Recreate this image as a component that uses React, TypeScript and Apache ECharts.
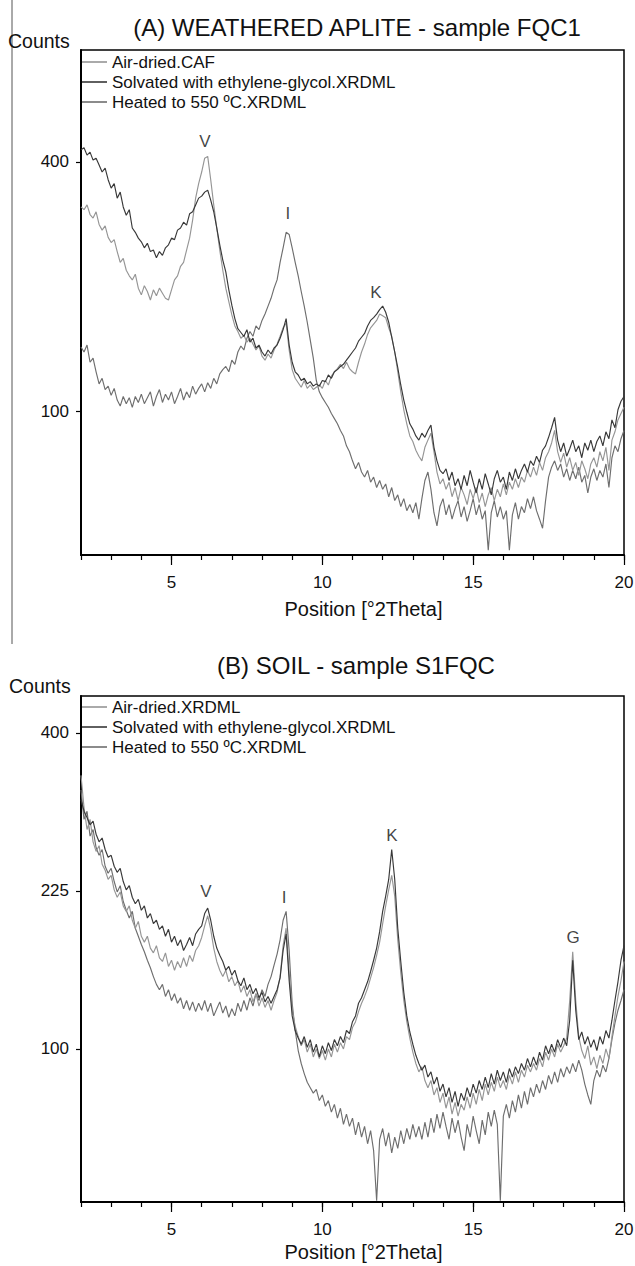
import React, { useEffect, useRef } from "react";
import * as echarts from "echarts";

// ---- scan grid (°2Theta) ----
const SCAN_START = 2.0;
const SCAN_STEP = 0.1;
const SCAN_POINTS = 181;
const twoTheta: number[] = Array.from({ length: SCAN_POINTS }, (_, i) =>
  Math.round((SCAN_START + i * SCAN_STEP) * 10) / 10
);

const xTickLabels = [5, 10, 15, 20];
const yTickLabelsA = [100, 400];
const yTickLabelsB = [100, 225, 400];
const countsRangeA = [17.8, 600];
const countsRangeB = [26.6, 448];

const titleA = "(A) WEATHERED APLITE - sample FQC1";
const titleB = "(B) SOIL - sample S1FQC";
const yName = "Counts";
const xName = "Position [°2Theta]";

const namesA = ["Air-dried.CAF", "Solvated with ethylene-glycol.XRDML", "Heated to 550 ºC.XRDML"];
const namesB = ["Air-dried.XRDML", "Solvated with ethylene-glycol.XRDML", "Heated to 550 ºC.XRDML"];

// ---- (A) counts ----
const airDriedA = [
  331, 327, 334, 320, 315, 324, 306, 298, 304, 288,
  281, 285, 269, 255, 260, 245, 238, 233, 240, 223,
  215, 226, 219, 209, 221, 214, 223, 217, 211, 209,
  221, 233, 238, 250, 255, 271, 287, 312, 344, 366,
  384, 406, 409, 372, 334, 301, 271, 245, 223, 207,
  192, 180, 174, 167, 170, 163, 167, 161, 155, 159,
  149, 145, 151, 147, 155, 161, 169, 178, 183, 155,
  136, 128, 124, 120, 126, 119, 122, 118, 120, 122,
  119, 126, 122, 130, 134, 137, 141, 137, 143, 137,
  134, 132, 143, 153, 161, 171, 178, 182, 186, 193,
  191, 189, 178, 169, 153, 134, 116, 101, 90, 81,
  77, 71, 67, 64, 73, 78, 83, 70, 57, 50,
  53, 47, 51, 43, 48, 41, 48, 44, 39, 47,
  42, 48, 40, 45, 38, 44, 48, 41, 47, 43,
  50, 44, 51, 47, 53, 48, 54, 51, 58, 54,
  60, 55, 63, 58, 66, 70, 76, 85, 70, 63,
  69, 60, 66, 58, 63, 55, 64, 59, 53, 62,
  66, 60, 70, 64, 73, 58, 78, 84, 93, 98,
  103,
];
const solvatedA = [
  420, 423, 411, 416, 403, 406, 395, 384, 390, 372,
  359, 366, 344, 353, 331, 319, 327, 301, 295, 287,
  282, 274, 280, 269, 271, 261, 269, 264, 274, 278,
  287, 285, 298, 301, 309, 305, 321, 324, 334, 344,
  347, 353, 356, 341, 324, 301, 278, 258, 243, 221,
  203, 188, 177, 173, 169, 176, 163, 167, 157, 160,
  153, 149, 155, 151, 157, 160, 167, 176, 188, 160,
  143, 134, 131, 126, 128, 123, 125, 121, 123, 121,
  126, 125, 131, 128, 134, 136, 139, 141, 145, 149,
  153, 157, 164, 168, 172, 180, 186, 189, 193, 198,
  202, 195, 184, 168, 153, 138, 122, 109, 99, 90,
  86, 81, 78, 83, 80, 85, 89, 73, 64, 58,
  56, 59, 52, 57, 49, 53, 47, 55, 49, 58,
  51, 45, 53, 47, 56, 50, 44, 53, 58, 51,
  54, 47, 57, 52, 59, 53, 58, 62, 57, 64,
  61, 67, 63, 71, 74, 80, 87, 95, 78, 70,
  76, 67, 72, 78, 70, 74, 66, 76, 71, 78,
  70, 77, 81, 74, 84, 79, 93, 87, 101, 108,
  112,
];
const heatedA = [
  158, 153, 160, 143, 147, 134, 123, 128, 118, 121,
  113, 119, 109, 104, 112, 106, 111, 103, 112, 107,
  114, 106, 111, 116, 104, 112, 118, 107, 114, 109,
  116, 106, 112, 119, 109, 116, 111, 121, 114, 119,
  123, 116, 124, 119, 128, 123, 132, 136, 139, 134,
  145, 141, 153, 159, 155, 167, 174, 169, 180, 176,
  186, 193, 202, 211, 223, 233, 255, 274, 295, 292,
  274, 255, 238, 219, 202, 184, 165, 147, 126, 116,
  111, 107, 103, 98, 94, 90, 85, 81, 74, 70,
  64, 59, 63, 57, 54, 58, 51, 54, 48, 52,
  47, 50, 43, 48, 41, 44, 38, 42, 36, 39,
  35, 40, 32, 42, 52, 57, 47, 35, 29, 38,
  42, 34, 39, 32, 37, 41, 33, 38, 31, 36,
  42, 34, 39, 32, 36, 19.5, 35, 41, 33, 38,
  32, 36, 19.5, 34, 40, 32, 38, 35, 42, 37,
  43, 36, 32, 28, 41, 54, 60, 64, 58, 62,
  54, 59, 52, 58, 53, 60, 51, 55, 45, 54,
  59, 52, 58, 54, 62, 48, 66, 74, 70, 79,
  85,
];

// ---- (B) counts ----
const airDriedB = [
  348, 311, 287, 298, 274, 264, 270, 251, 245, 236,
  240, 226, 219, 224, 211, 206, 211, 198, 191, 197,
  184, 179, 184, 174, 170, 176, 166, 163, 170, 159,
  164, 156, 163, 158, 166, 159, 168, 163, 172, 176,
  183, 193, 202, 190, 174, 163, 156, 151, 156, 147,
  151, 144, 148, 139, 144, 136, 141, 132, 138, 129,
  135, 128, 133, 126, 133, 139, 151, 176, 191, 154,
  126, 115, 108, 102, 106, 98, 103, 95, 100, 94,
  99, 93, 100, 95, 103, 98, 104, 100, 108, 106,
  114, 118, 125, 131, 136, 142, 150, 158, 168, 179,
  195, 211, 226, 240, 220, 181, 154, 133, 118, 107,
  98, 91, 86, 89, 81, 77, 81, 73, 77, 69,
  74, 66, 72, 63, 69, 62, 68, 65, 72, 66,
  74, 68, 76, 70, 79, 73, 80, 75, 83, 77,
  81, 76, 84, 79, 86, 80, 87, 83, 90, 86,
  91, 87, 94, 89, 98, 93, 100, 95, 103, 98,
  102, 107, 133, 171, 133, 108, 99, 94, 102, 90,
  95, 88, 96, 91, 100, 94, 108, 122, 136, 148,
  163,
];
const solvatedB = [
  320, 307, 300, 292, 296, 282, 274, 278, 266, 258,
  260, 249, 243, 247, 234, 226, 230, 219, 213, 217,
  207, 211, 200, 204, 195, 198, 190, 193, 184, 190,
  179, 184, 176, 181, 172, 177, 183, 176, 186, 190,
  193, 204, 209, 198, 184, 174, 168, 163, 156, 159,
  152, 156, 148, 144, 150, 141, 145, 138, 142, 135,
  139, 132, 136, 131, 136, 141, 150, 172, 186, 148,
  122, 112, 107, 103, 108, 101, 106, 98, 103, 95,
  102, 97, 104, 99, 106, 102, 108, 104, 112, 110,
  118, 122, 131, 135, 141, 147, 155, 164, 174, 188,
  206, 220, 236, 266, 236, 191, 163, 139, 122, 111,
  103, 96, 91, 87, 90, 83, 86, 79, 83, 75,
  79, 72, 77, 69, 75, 67, 74, 70, 77, 72,
  79, 74, 81, 76, 83, 77, 85, 79, 87, 81,
  86, 80, 88, 83, 89, 85, 91, 87, 94, 89,
  95, 90, 98, 93, 102, 97, 103, 98, 106, 101,
  107, 102, 119, 164, 126, 106, 111, 103, 108, 101,
  106, 99, 108, 103, 112, 107, 119, 133, 147, 164,
  176,
];
const heatedB = [
  331, 298, 307, 280, 287, 268, 260, 266, 249, 242,
  247, 234, 224, 230, 215, 207, 200, 206, 191, 184,
  177, 171, 164, 158, 151, 145, 141, 145, 136, 141,
  133, 138, 131, 135, 127, 133, 126, 132, 125, 131,
  126, 133, 125, 131, 122, 127, 132, 124, 129, 121,
  127, 122, 131, 125, 133, 126, 135, 129, 138, 133,
  141, 136, 145, 151, 160, 169, 181, 198, 206, 172,
  131, 112, 99, 91, 85, 80, 77, 74, 76, 70,
  73, 67, 70, 64, 68, 61, 66, 58, 63, 57,
  61, 53, 59, 52, 57, 49, 55, 46, 27, 51,
  56, 48, 54, 45, 52, 47, 55, 49, 56, 51,
  58, 52, 57, 51, 59, 52, 61, 54, 63, 56,
  64, 57, 51, 61, 54, 60, 52, 46, 58, 52,
  62, 55, 49, 60, 53, 64, 57, 65, 58, 27,
  62, 68, 61, 70, 64, 73, 66, 75, 68, 77,
  72, 79, 74, 81, 76, 84, 79, 86, 80, 88,
  83, 89, 85, 91, 86, 93, 87, 79, 73, 68,
  81, 87, 83, 90, 86, 94, 106, 117, 126, 133,
  141,
];

// ---- peak annotations ----
const peakNamesA = ["V", "I", "K"];
const peakPosA = [6.11, 8.86, 11.78];
const peakCountsA = [433, 322, 218];
const peakNamesB = ["V", "I", "K", "G"];
const peakPosB = [6.14, 8.73, 12.31, 18.31];
const peakCountsB = [224, 219, 281, 183];

const FONT = "'Liberation Sans', Arial, Helvetica, sans-serif";
const COLOR_AIR = "#959595";
const COLOR_SOLV = "#383838";
const COLOR_HEAT = "#6e6e6e";
const TEXT = "#111";

function toSqrtSeries(counts: number[]) {
  return twoTheta.map((t, i) => [t, Math.sqrt(counts[i])]);
}

function mainXAxis(gridIndex: number, nameGap: number) {
  return {
    type: "value",
    gridIndex,
    position: "bottom",
    min: 2,
    max: 20,
    interval: 1,
    axisLine: { show: true, onZero: false, lineStyle: { color: "#000", width: 2 } },
    axisTick: { show: true, length: 5, lineStyle: { color: "#000", width: 1.2 } },
    axisLabel: {
      formatter: (v: number) =>
        xTickLabels.includes(Math.round(v)) && Math.abs(v - Math.round(v)) < 1e-6 ? String(Math.round(v)) : "",
      fontSize: 17,
      color: TEXT,
      fontFamily: FONT,
      margin: 19,
      showMinLabel: true,
      showMaxLabel: true,
    },
    splitLine: { show: false },
    name: xName,
    nameLocation: "middle",
    nameGap,
    nameTextStyle: { fontSize: 20, color: TEXT, fontFamily: FONT, padding: [0, 0, 0, 22] },
  };
}

function majorXAxis(gridIndex: number) {
  return {
    type: "value",
    gridIndex,
    position: "bottom",
    min: 2,
    max: 20,
    axisLine: { show: false },
    axisTick: { show: true, length: 10, customValues: xTickLabels, lineStyle: { color: "#000", width: 1.2 } },
    axisLabel: { show: false },
    splitLine: { show: false },
  };
}

function yAxis(gridIndex: number, range: number[], ticks: number[]) {
  const tv = ticks.map((t) => Math.sqrt(t));
  return {
    type: "value",
    gridIndex,
    min: Math.sqrt(range[0]),
    max: Math.sqrt(range[1]),
    axisLine: { show: true, onZero: false, lineStyle: { color: "#000", width: 2 } },
    axisTick: { show: true, length: 5, customValues: tv, lineStyle: { color: "#000", width: 1.2 } },
    axisLabel: {
      customValues: tv,
      formatter: (v: number) => String(Math.round(v * v)),
      fontSize: 17,
      color: TEXT,
      fontFamily: FONT,
      margin: 12,
    },
    splitLine: { show: false },
  };
}

function lineSeries(name: string, xi: number, yi: number, counts: number[], color: string, width: number) {
  return {
    type: "line",
    name,
    xAxisIndex: xi,
    yAxisIndex: yi,
    data: toSqrtSeries(counts),
    showSymbol: false,
    symbol: "none",
    lineStyle: { color, width },
    itemStyle: { color },
    silent: true,
    clip: true,
    z: 2,
  };
}

function peakSeries(xi: number, yi: number, names: string[], pos: number[], counts: number[]) {
  return {
    type: "scatter",
    name: "peaks",
    xAxisIndex: xi,
    yAxisIndex: yi,
    symbolSize: 0,
    silent: true,
    data: names.map((n, i) => ({ name: n, value: [pos[i], Math.sqrt(counts[i])] })),
    label: { show: true, position: "inside", formatter: "{b}", fontSize: 17, color: TEXT, fontFamily: FONT },
    z: 5,
  };
}

function legend(names: string[], top: number) {
  return {
    data: names,
    orient: "vertical",
    left: 82,
    top,
    padding: 0,
    itemGap: 0,
    itemWidth: 25,
    itemHeight: 1.6,
    icon: "rect",
    selectedMode: false,
    textStyle: { fontSize: 17, lineHeight: 20, color: TEXT, fontFamily: FONT },
  };
}

function text(str: string, x: number, y: number, size: number, align: string) {
  return {
    type: "text",
    x,
    y,
    silent: true,
    style: {
      text: str,
      fontSize: size,
      fontFamily: FONT,
      fill: TEXT,
      align,
      textAlign: align,
      verticalAlign: "middle",
      textVerticalAlign: "middle",
    },
  };
}

export default function App() {
  const ref = useRef<HTMLDivElement>(null);
  useEffect(() => {
    if (!ref.current) return;
    const chart = echarts.init(ref.current, undefined, { renderer: "svg" });
    const option: any = {
      animation: false,
      backgroundColor: "#fff",
      grid: [
        { left: 81, top: 50, width: 543, height: 505, show: true, borderColor: "#000", borderWidth: 1.5, backgroundColor: "transparent", outerBoundsMode: "none" },
        { left: 81, top: 696, width: 543, height: 506, show: true, borderColor: "#000", borderWidth: 1.5, backgroundColor: "transparent", outerBoundsMode: "none" },
      ],
      xAxis: [mainXAxis(0, 44), majorXAxis(0), mainXAxis(1, 40), majorXAxis(1)],
      yAxis: [yAxis(0, countsRangeA, yTickLabelsA), yAxis(1, countsRangeB, yTickLabelsB)],
      legend: [legend(namesA, 52), legend(namesB, 697)],
      series: [
        lineSeries(namesA[2], 0, 0, heatedA, COLOR_HEAT, 1.15),
        lineSeries(namesA[0], 0, 0, airDriedA, COLOR_AIR, 1.15),
        lineSeries(namesA[1], 0, 0, solvatedA, COLOR_SOLV, 1.15),
        peakSeries(0, 0, peakNamesA, peakPosA, peakCountsA),
        lineSeries(namesB[2], 2, 1, heatedB, COLOR_HEAT, 1.15),
        lineSeries(namesB[0], 2, 1, airDriedB, COLOR_AIR, 1.15),
        lineSeries(namesB[1], 2, 1, solvatedB, COLOR_SOLV, 1.15),
        peakSeries(2, 1, peakNamesB, peakPosB, peakCountsB),
      ],
      graphic: [
        { type: "line", silent: true, shape: { x1: 12, y1: 0, x2: 12, y2: 644 }, style: { stroke: "#555", lineWidth: 1 } },
        text(titleA, 357, 27, 24, "center"),
        text(yName, 8, 41, 19.5, "left"),
        text(titleB, 356, 665, 24, "center"),
        text(yName, 9, 686, 19.5, "left"),
      ],
    };
    chart.setOption(option);
    return () => chart.dispose();
  }, []);
  return (
    <div
      ref={ref}
      style={{ position: "absolute", left: 0, top: 0, width: 635, height: 1266, background: "#fff" }}
    />
  );
}
